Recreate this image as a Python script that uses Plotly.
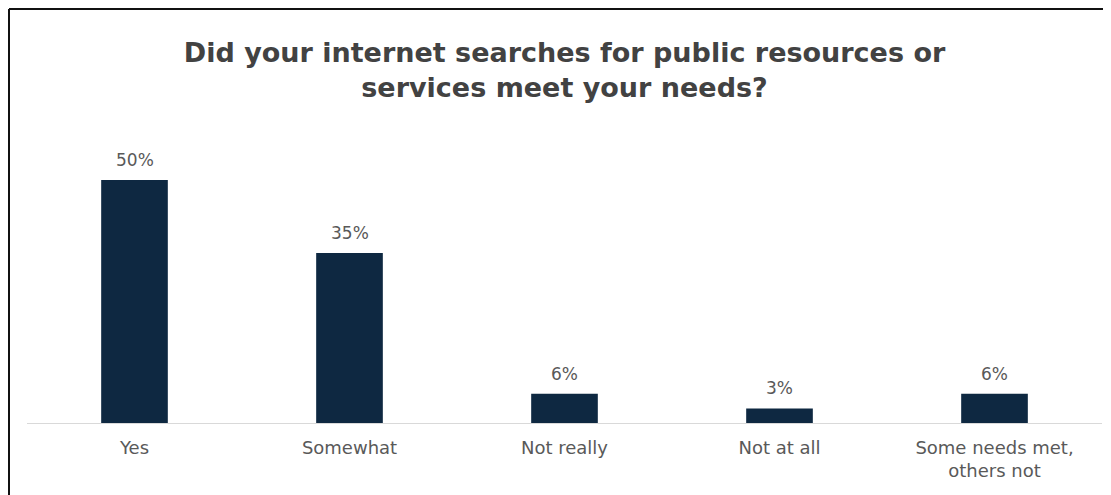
import plotly.graph_objects as go

categories = ["Yes", "Somewhat", "Not really", "Not at all", "Some needs met,<br>others not"]
values = [50, 35, 6, 3, 6]
labels = ["50%", "35%", "6%", "3%", "6%"]

# page body has an 8px margin, so the figure is sized to the remaining window
W, H = 1103, 487
ml, mr, mt, mb = 19, 9, 132, 72
pw = W - ml - mr
ph = H - mt - mb
px_per_unit = 4.86

FONT = "DejaVu Sans, Liberation Sans, Arial"

fig = go.Figure(go.Bar(
    x=categories, y=values,
    marker=dict(color="#0E2841", line=dict(width=0)),
    width=0.31,
    hoverinfo="skip",
))

annotations = [
    dict(x=c, y=v, text=t, xref="x", yref="y", showarrow=False,
         yanchor="bottom", yshift=8,
         font=dict(family=FONT, size=17, color="#595959"))
    for c, v, t in zip(categories, values, labels)
]

fig.update_layout(
    width=W, height=H,
    margin=dict(l=ml, r=mr, t=mt, b=mb),
    paper_bgcolor="white", plot_bgcolor="white",
    showlegend=False,
    annotations=annotations,
    title=dict(
        text="<b>Did your internet searches for public resources or<br>services meet your needs?</b>",
        x=(ml + pw / 2) / W, xanchor="center",
        y=1 - 54 / H, yanchor="middle",
        font=dict(family=FONT, size=27, color="#424242"),
    ),
    xaxis=dict(
        showline=True, linecolor="#d9d9d9", linewidth=1,
        ticks="outside", tickcolor="white", ticklen=8,
        tickfont=dict(family=FONT, size=18, color="#595959"),
        showgrid=False,
    ),
    yaxis=dict(range=[0, ph / px_per_unit], visible=False, showgrid=False),
    shapes=[
        dict(type="line", xref="paper", yref="paper",
             x0=(1 - ml) / pw, x1=(W + 20 - ml) / pw,
             y0=(H - mb - 1) / ph, y1=(H - mb - 1) / ph,
             line=dict(color="#111111", width=2)),
        dict(type="line", xref="paper", yref="paper",
             x0=(1 - ml) / pw, x1=(1 - ml) / pw,
             y0=(H - mb - 1) / ph, y1=(H - mb - H - 20) / ph,
             line=dict(color="#111111", width=2)),
    ],
)

fig.write_html("out.html")
